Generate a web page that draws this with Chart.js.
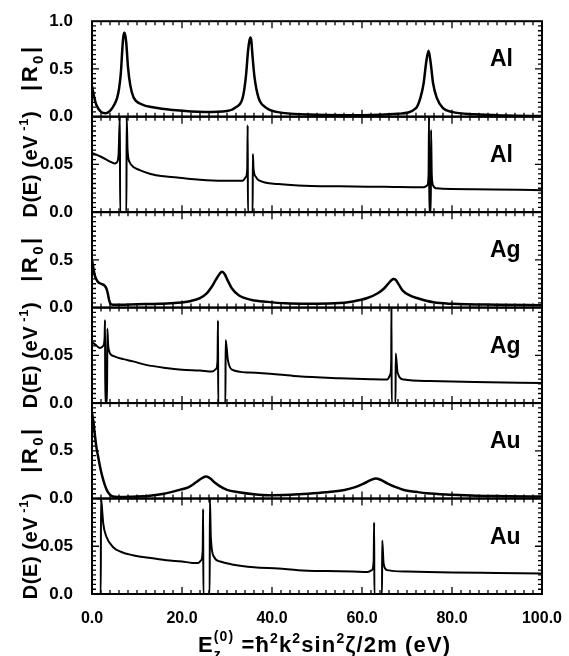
<!DOCTYPE html>
<html lang="en">
<head>
<meta charset="UTF-8">
<title>|R0| and D(E) for Al, Ag, Au</title>
<script src="https://cdn.jsdelivr.net/npm/chart.js"></script>
<style>
  body { margin: 0; background: #fff; }
  canvas { display: block; }
</style>
</head>
<body>
<canvas id="chart" width="569" height="656"></canvas>
<script>
// values, E in eV
const alR_E = [0, 0.5, 1, 2, 3, 4, 5, 5.6, 6.0, 6.4, 6.8, 7.0, 7.2, 7.4, 7.6, 8.0, 8.5, 9.25, 11, 13.8, 18, 25, 30, 32, 33.5, 34.2, 34.7, 35.0, 35.2, 35.4, 35.7, 36.1, 37, 38.5, 41, 50, 60, 68, 72, 73.0, 73.7, 74.3, 74.8, 75.3, 75.8, 76.6, 78, 80, 85, 92, 100];
const alR   = [0.32, 0.2, 0.12, 0.05, 0.035, 0.06, 0.13, 0.2, 0.29, 0.45, 0.75, 0.85, 0.88, 0.85, 0.78, 0.52, 0.33, 0.2, 0.13, 0.095, 0.07, 0.05, 0.06, 0.1, 0.2, 0.42, 0.7, 0.8, 0.83, 0.8, 0.62, 0.42, 0.2, 0.1, 0.05, 0.02, 0.015, 0.03, 0.09, 0.2, 0.35, 0.58, 0.69, 0.55, 0.35, 0.2, 0.09, 0.05, 0.025, 0.012, 0.006];

const alD_E = [0, 2, 4, 5, 5.5, 5.9, 6.2, 6.25, 7.65, 7.7, 7.9, 8.4, 9.3, 10.6, 13, 16, 19.4, 24, 29, 33.5, 34.2, 34.5, 34.6, 34.65, 35.7, 35.75, 35.9, 36.4, 37, 41.4, 45.8, 55, 65, 73.7, 74.5, 74.8, 74.9, 74.95, 75.3, 75.35, 75.5, 75.8, 76.5, 85, 100];
const alD   = [0.062, 0.058, 0.053, 0.051, 0.052, 0.06, 0.1, 0, 0, 0.1, 0.065, 0.052, 0.047, 0.044, 0.040, 0.0375, 0.036, 0.034, 0.033, 0.033, 0.037, 0.045, 0.091, 0, 0, 0.061, 0.045, 0.037, 0.0335, 0.0295, 0.028, 0.027, 0.0265, 0.026, 0.028, 0.04, 0.1, 0, 0, 0.086, 0.04, 0.028, 0.025, 0.024, 0.023];

const agR_E = [0, 0.6, 1.3, 2.0, 2.8, 3.2, 3.5, 3.8, 4.1, 4.6, 6, 10, 15, 19, 22, 24, 25.5, 26.5, 27.5, 28.3, 28.9, 29.5, 30.2, 31.1, 32.6, 35.5, 39, 42.9, 48, 53.9, 58, 61.2, 63.5, 64.9, 66, 66.6, 67, 67.5, 68.2, 69, 70.5, 72.2, 75.9, 80, 90, 100];
const agR   = [0.5, 0.34, 0.27, 0.25, 0.23, 0.2, 0.15, 0.08, 0.04, 0.03, 0.03, 0.035, 0.04, 0.05, 0.07, 0.1, 0.15, 0.21, 0.29, 0.35, 0.375, 0.35, 0.28, 0.2, 0.13, 0.08, 0.06, 0.045, 0.04, 0.045, 0.065, 0.1, 0.15, 0.2, 0.26, 0.29, 0.3, 0.29, 0.24, 0.18, 0.13, 0.1, 0.055, 0.04, 0.03, 0.025];

const agD_E = [0, 0.8, 1.8, 2.5, 2.8, 2.9, 2.95, 3.35, 3.4, 3.6, 3.8, 4.0, 5, 7, 9.1, 12, 16.4, 20, 24, 26.7, 27.6, 27.9, 28.0, 28.05, 29.65, 29.7, 30.2, 31.1, 35, 41.4, 45.8, 55, 62, 65.6, 66.3, 66.5, 66.55, 66.6, 67.45, 67.5, 67.9, 69.3, 75, 85, 100];
const agD   = [0.064, 0.061, 0.0576, 0.06, 0.068, 0.087, 0, 0, 0.078, 0.06, 0.055, 0.052, 0.049, 0.046, 0.0437, 0.04, 0.0368, 0.035, 0.034, 0.033, 0.036, 0.045, 0.0865, 0, 0, 0.066, 0.045, 0.035, 0.032, 0.030, 0.028, 0.026, 0.025, 0.0247, 0.03, 0.045, 0.1, 0, 0, 0.052, 0.032, 0.0247, 0.023, 0.022, 0.021];

const auR_E = [0, 0.3, 0.6, 1.0, 1.4, 1.8, 2.3, 2.9, 3.5, 4.3, 5.2, 6.2, 9, 12.8, 16, 19.4, 21.5, 23.1, 24.5, 25.4, 26.3, 27.2, 28.2, 30, 32.6, 36, 39.2, 44, 48, 52, 56.1, 58.5, 60.5, 62, 63.1, 64.2, 65.6, 67.5, 69.3, 72, 74.4, 80, 85.5, 92, 100];
const auR   = [0.9, 0.81, 0.68, 0.53, 0.43, 0.33, 0.23, 0.135, 0.07, 0.03, 0.018, 0.015, 0.02, 0.03, 0.05, 0.09, 0.12, 0.17, 0.215, 0.23, 0.21, 0.17, 0.135, 0.09, 0.066, 0.045, 0.035, 0.04, 0.05, 0.065, 0.09, 0.12, 0.16, 0.195, 0.21, 0.195, 0.16, 0.12, 0.09, 0.07, 0.055, 0.04, 0.03, 0.025, 0.02];

const auD_E = [0, 1.95, 2.0, 2.3, 2.5, 3.2, 4.7, 6.5, 9.1, 12.5, 16.5, 20, 22.3, 23.6, 24.2, 24.6, 24.7, 24.75, 26.15, 26.2, 26.4, 27.1, 28.5, 31.1, 36, 41.4, 45.8, 52, 58, 61.2, 62.2, 62.6, 62.7, 62.75, 64.45, 64.5, 64.8, 65.6, 70, 80, 90, 100];
const auD   = [0, 0, 0.1, 0.085, 0.0736, 0.06, 0.049, 0.044, 0.0406, 0.038, 0.0354, 0.034, 0.0326, 0.0325, 0.035, 0.045, 0.089, 0, 0, 0.1, 0.06, 0.039, 0.034, 0.031, 0.028, 0.0267, 0.025, 0.024, 0.0235, 0.023, 0.025, 0.035, 0.075, 0, 0, 0.056, 0.032, 0.025, 0.0235, 0.0225, 0.022, 0.0215];

const xTickValues = [0, 20, 40, 60, 80, 100];
const rTickValues = [0, 0.5, 1];
const dTickValues = [0, 0.05, 0.1];

const FONT = "'Liberation Sans', Arial, sans-serif";

function pts(xs, ys) {
  return xs.map((x, i) => ({ x: x, y: ys[i] }));
}

// top to bottom
const panels = [
  { id: 'yAlR', kind: 'R', name: 'Al', E: alR_E, v: alR },
  { id: 'yAlD', kind: 'D', name: 'Al', E: alD_E, v: alD },
  { id: 'yAgR', kind: 'R', name: 'Ag', E: agR_E, v: agR },
  { id: 'yAgD', kind: 'D', name: 'Ag', E: agD_E, v: agD },
  { id: 'yAuR', kind: 'R', name: 'Au', E: auR_E, v: auR },
  { id: 'yAuD', kind: 'D', name: 'Au', E: auD_E, v: auD }
];

function tickText(p, v) {
  if (Math.abs(v) < 1e-9) return '0.0';
  if (p.kind === 'R') {
    if (Math.abs(v - 0.5) < 1e-9) return '0.5';
    return p.id === 'yAlR' ? '1.0' : '';
  }
  if (Math.abs(v - 0.05) < 1e-9) return '0.05';
  return '';
}

const scales = {
  x: {
    type: 'linear', position: 'bottom', min: 0, max: 100,
    grid: { display: false }, border: { display: false },
    afterBuildTicks: s => { s.ticks = xTickValues.map(v => ({ value: v })); },
    afterFit: s => { s.height = 62; },
    ticks: {
      autoSkip: false, maxRotation: 0, padding: 7, color: '#000',
      font: { family: FONT, size: 16, weight: 'bold' },
      callback: v => v.toFixed(1)
    }
  }
};

// stacked axes: the last one declared goes on top
panels.slice().reverse().forEach(p => {
  const vals = p.kind === 'R' ? rTickValues : dTickValues;
  scales[p.id] = {
    type: 'linear', position: 'left', stack: 'panels', stackWeight: 1, offset: false,
    min: 0, max: p.kind === 'R' ? 1 : 0.1,
    grid: { display: false }, border: { display: false },
    afterBuildTicks: s => { s.ticks = vals.map(v => ({ value: v })); },
    afterFit: s => { s.width = 92; },
    ticks: {
      autoSkip: false, padding: 11, color: '#000',
      font: { family: FONT, size: 17, weight: 'bold' },
      callback: v => tickText(p, v)
    }
  };
});

// text pieces drawn letter by letter so they can be spread to the wanted length
function charW(ctx, q) {
  ctx.font = 'bold ' + q.size + 'px ' + FONT;
  return ctx.measureText(q.t).width;
}
function layoutRich(ctx, parts, target) {
  let w = 0, n = 0;
  parts.forEach(q => { if (!q.noAdv) { w += charW(ctx, q); n += q.t.length; } });
  return Math.max(0, (target - w) / Math.max(1, n - 1));
}
function drawRich(ctx, parts, x, y, gap) {
  parts.forEach(q => {
    ctx.font = 'bold ' + q.size + 'px ' + FONT;
    let cx = x;
    for (const ch of q.t) {
      ctx.fillText(ch, cx, y + (q.dy || 0));
      cx += ctx.measureText(ch).width + gap;
    }
    if (!q.noAdv) x = cx;
  });
}

const rTitle = [
  { t: '|R', size: 22 }, { t: '0', size: 15, dy: 6 }, { t: '|', size: 22 }
];
const dTitle = [
  { t: 'D(E) (eV', size: 20 }, { t: ' -1', size: 13, dy: -9 }, { t: ')', size: 20 }
];
const xTitle = [
  { t: 'E', size: 22 }, { t: 'z', size: 14, dy: 7, noAdv: true }, { t: '(0)', size: 14, dy: -11 },
  { t: ' =\u0127', size: 22 }, { t: '2', size: 14, dy: -9 }, { t: 'k', size: 22 },
  { t: '2', size: 14, dy: -9 }, { t: 'sin', size: 22 }, { t: '2', size: 14, dy: -9 },
  { t: '\u03B6/2m (eV)', size: 22 }
];

const decor = {
  id: 'decor',
  afterDraw(chart) {
    const ctx = chart.ctx, a = chart.chartArea, xs = chart.scales.x;
    ctx.save();
    ctx.strokeStyle = '#000';
    ctx.fillStyle = '#000';
    ctx.textBaseline = 'alphabetic';
    ctx.textAlign = 'left';
    panels.forEach(p => {
      const s = chart.scales[p.id];
      const top = s.top, bot = s.bottom;
      ctx.lineWidth = 1.3;
      ctx.beginPath();
      for (let e = 0; e <= 100; e += 2) {
        const px = xs.getPixelForValue(e);
        const len = e % 20 === 0 ? 7 : 4;
        ctx.moveTo(px, bot); ctx.lineTo(px, bot - len);
        ctx.moveTo(px, top); ctx.lineTo(px, top + len);
      }
      const step = s.max / 20;
      for (let k = 1; k < 20; k++) {
        const py = s.getPixelForValue(k * step);
        const len = k % 10 === 0 ? 7 : 4;
        ctx.moveTo(a.left, py); ctx.lineTo(a.left + len, py);
        ctx.moveTo(a.right, py); ctx.lineTo(a.right - len, py);
      }
      ctx.stroke();
      ctx.lineWidth = 2;
      ctx.strokeRect(a.left, top, a.right - a.left, bot - top);

      ctx.font = 'bold 23px ' + FONT;
      ctx.fillText(p.name, 490, top + 45);

      const parts = p.kind === 'R' ? rTitle : dTitle;
      const target = p.kind === 'R' ? 44 : 106;
      const gap = layoutRich(ctx, parts, target);
      ctx.save();
      ctx.translate(37, (top + bot) / 2);
      ctx.rotate(-Math.PI / 2);
      drawRich(ctx, parts, -target / 2, 0, gap);
      ctx.restore();
    });
    const gap = layoutRich(ctx, xTitle, 252);
    drawRich(ctx, xTitle, 198, 652, gap);
    ctx.restore();
  }
};

new Chart(document.getElementById('chart'), {
  type: 'line',
  data: {
    datasets: panels.map(p => ({
      label: p.name + ' ' + p.kind,
      data: pts(p.E, p.v),
      xAxisID: 'x',
      yAxisID: p.id,
      borderColor: '#000',
      borderWidth: p.kind === 'R' ? 2.5 : 2,
      pointRadius: 0,
      cubicInterpolationMode: 'monotone',
      fill: false
    }))
  },
  options: {
    responsive: false,
    animation: false,
    layout: { padding: { left: 0, top: 18, right: 23, bottom: 0 } },
    plugins: { legend: { display: false }, tooltip: { enabled: false } },
    scales: scales
  },
  plugins: [decor]
});
</script>
</body>
</html>
